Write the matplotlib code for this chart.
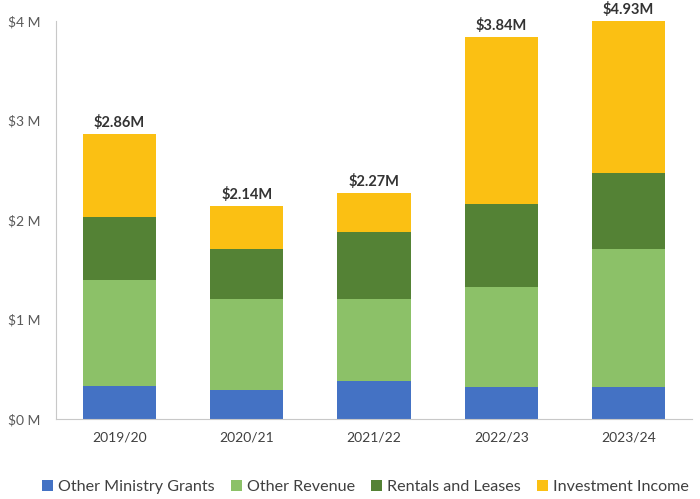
import matplotlib
matplotlib.use('Agg')
import matplotlib.pyplot as plt
import numpy as np

# revenue by source, in $M
years = ['2019/20', '2020/21', '2021/22', '2022/23', '2023/24']
ministry_grants = [0.33, 0.29, 0.385, 0.325, 0.32]
other_revenue = [1.07, 0.92, 0.825, 1.005, 1.385]
rentals_leases = [0.63, 0.50, 0.67, 0.83, 0.77]
investment_income = [0.83, 0.43, 0.39, 1.68, 2.455]
totals = [2.86, 2.14, 2.27, 3.84, 4.93]

series = [
    ('Other Ministry Grants', ministry_grants, '#4472C4'),
    ('Other Revenue', other_revenue, '#8CC168'),
    ('Rentals and Leases', rentals_leases, '#548235'),
    ('Investment Income', investment_income, '#FBC013'),
]

plt.rcParams['font.family'] = ['Lato', 'DejaVu Sans']

fig = plt.figure(figsize=(7, 4.99), dpi=100)
ax = fig.add_axes([0.08, 0.1603, 0.9086, 0.798])

x = np.arange(len(years))
bottom = np.zeros(len(years))
for name, vals, color in series:
    ax.bar(x, vals, width=0.575, bottom=bottom, color=color, label=name)
    bottom += np.array(vals)

ymax = 4.0
ax.set_ylim(0, ymax)
ax.set_xlim(-0.5, len(years) - 0.5)

# total labels sit above each bar (or at the top of the axis if the bar runs past it)
for xi, t in zip(x, totals):
    ax.annotate('$%.2fM' % t, (xi, min(t, ymax)), xytext=(0, 3),
                textcoords='offset points', ha='center', va='bottom',
                fontsize=10.5, fontweight='bold', color='#333333',
                annotation_clip=False)

ax.set_yticks([0, 1, 2, 3, 4])
ax.set_yticklabels(['$%d M' % v for v in range(5)])
ax.set_xticks(x)
ax.set_xticklabels(years)
ax.tick_params(axis='y', length=0, pad=11, labelsize=10, labelcolor='#595959')
ax.tick_params(axis='x', length=0, pad=9, labelsize=10, labelcolor='#404040')

for side in ['top', 'right']:
    ax.spines[side].set_visible(False)
ax.spines['left'].set_color('#C8C8C8')
ax.spines['bottom'].set_color('#C8C8C8')

fig.legend(loc='center', bbox_to_anchor=(0.522, 0.024), ncol=4, frameon=False,
           fontsize=11.6, handlelength=0.7, handleheight=0.7, handletextpad=0.3,
           columnspacing=1.0, labelcolor='#404040')

fig.savefig('out.png', dpi=100)
